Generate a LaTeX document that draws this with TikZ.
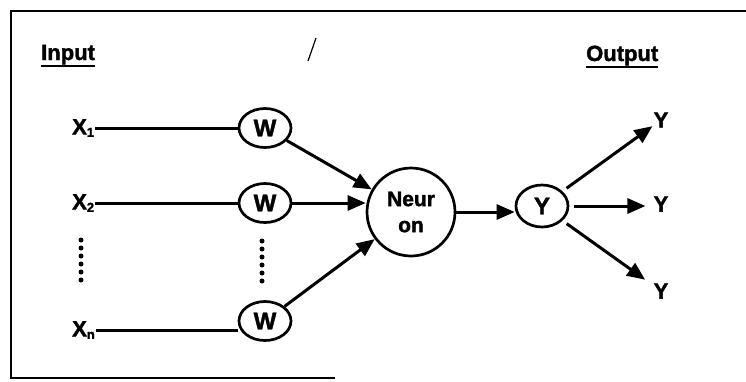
\documentclass[tikz,border=0pt]{standalone}
\usepackage{fontspec}
\setmainfont{Liberation Sans}[BoldFeatures={FakeBold=1.6}]
\usetikzlibrary{shapes.geometric,arrows.meta}

% bold word with a heavy rule beneath it
\newcommand\ulword[1]{\vtop{\hbox{#1}\kern0.6pt\hrule height 2.2pt}}
% letter with a small index set on the baseline
\newcommand\idx[2]{#1\raisebox{-2.5pt}{\fontsize{13}{13}\selectfont #2}}

\begin{document}
\begin{tikzpicture}[x=1pt,y=-1pt,
  every node/.style={font=\fontsize{22}{26}\selectfont\bfseries},
  lbl/.style={inner sep=1pt},
  wt/.style={ellipse,draw,line width=2.7pt,minimum width=52pt,minimum height=39pt,inner sep=0pt,
             font=\fontsize{24}{26}\selectfont\bfseries},
  conn/.style={line width=3pt},
  arr/.style={conn,-{Triangle[length=18pt,width=15pt]}},
  dotcol/.style={fill=black}]
\useasboundingbox (0,0) rectangle (746,381);

% frame
\draw[line width=2.4pt] (746,11) -- (11,11) -- (11,378) -- (335,378);
% stray pen stroke
\draw[line width=1.2pt] (316,38) -- (308,61);

% headings
\node[lbl,anchor=base west] (in) at (40,60) {\ulword{Input}};
\node[lbl,anchor=base west] (out) at (585,61) {\ulword{Output}};

% inputs
\node[lbl,anchor=west] (x1) at (71,128) {\idx{X}{1}};
\node[lbl,anchor=west] (x2) at (71,203) {\idx{X}{2}};
\node[lbl,anchor=west] (xn) at (71,330) {\idx{X}{n}};

% weights
\node[wt] (w1) at (265,128) {W};
\node[wt] (w2) at (265,203) {W};
\node[wt] (w3) at (265,321) {W};

% neuron and output
\node[circle,draw,line width=2.7pt,minimum size=88pt,inner sep=0pt,align=center,
      font=\fontsize{21}{26}\selectfont\bfseries] (nn) at (411,212) {Neur\\on};
\node[wt,minimum height=42pt] (yy) at (542,206) {Y};

\node[lbl] (y1) at (661,120) {Y};
\node[lbl] (y2) at (661,204) {Y};
\node[lbl] (y3) at (661,291) {Y};

% vertical ellipsis dots
\foreach \k in {0,...,5} {
  \fill[dotcol] (81,240+8*\k) circle (2.5pt);
  \fill[dotcol] (262,241+8*\k) circle (2.5pt);
}

% input lines
\draw[conn] (x1) -- (w1);
\draw[conn] (x2) -- (w2);
\draw[conn] (xn.east) -- (xn.east -| w3.west);

% weighted inputs into the neuron
\draw[arr] (w1) -- (nn);
\draw[arr] (w2.east) -- (w2.east -| nn.west);
\draw[arr] (w3) -- (nn);

% neuron to output
\draw[arr] (nn.east) -- (nn.east -| yy.west);

% output fan
\draw[arr,shorten <=5pt] (yy) -- (y1);
\draw[arr,shorten <=5pt,shorten >=7pt] (yy.east) -- (yy.east -| y2.west);
\draw[arr,shorten <=5pt,shorten >=9pt] (yy) -- (y3);
\end{tikzpicture}
\end{document}
